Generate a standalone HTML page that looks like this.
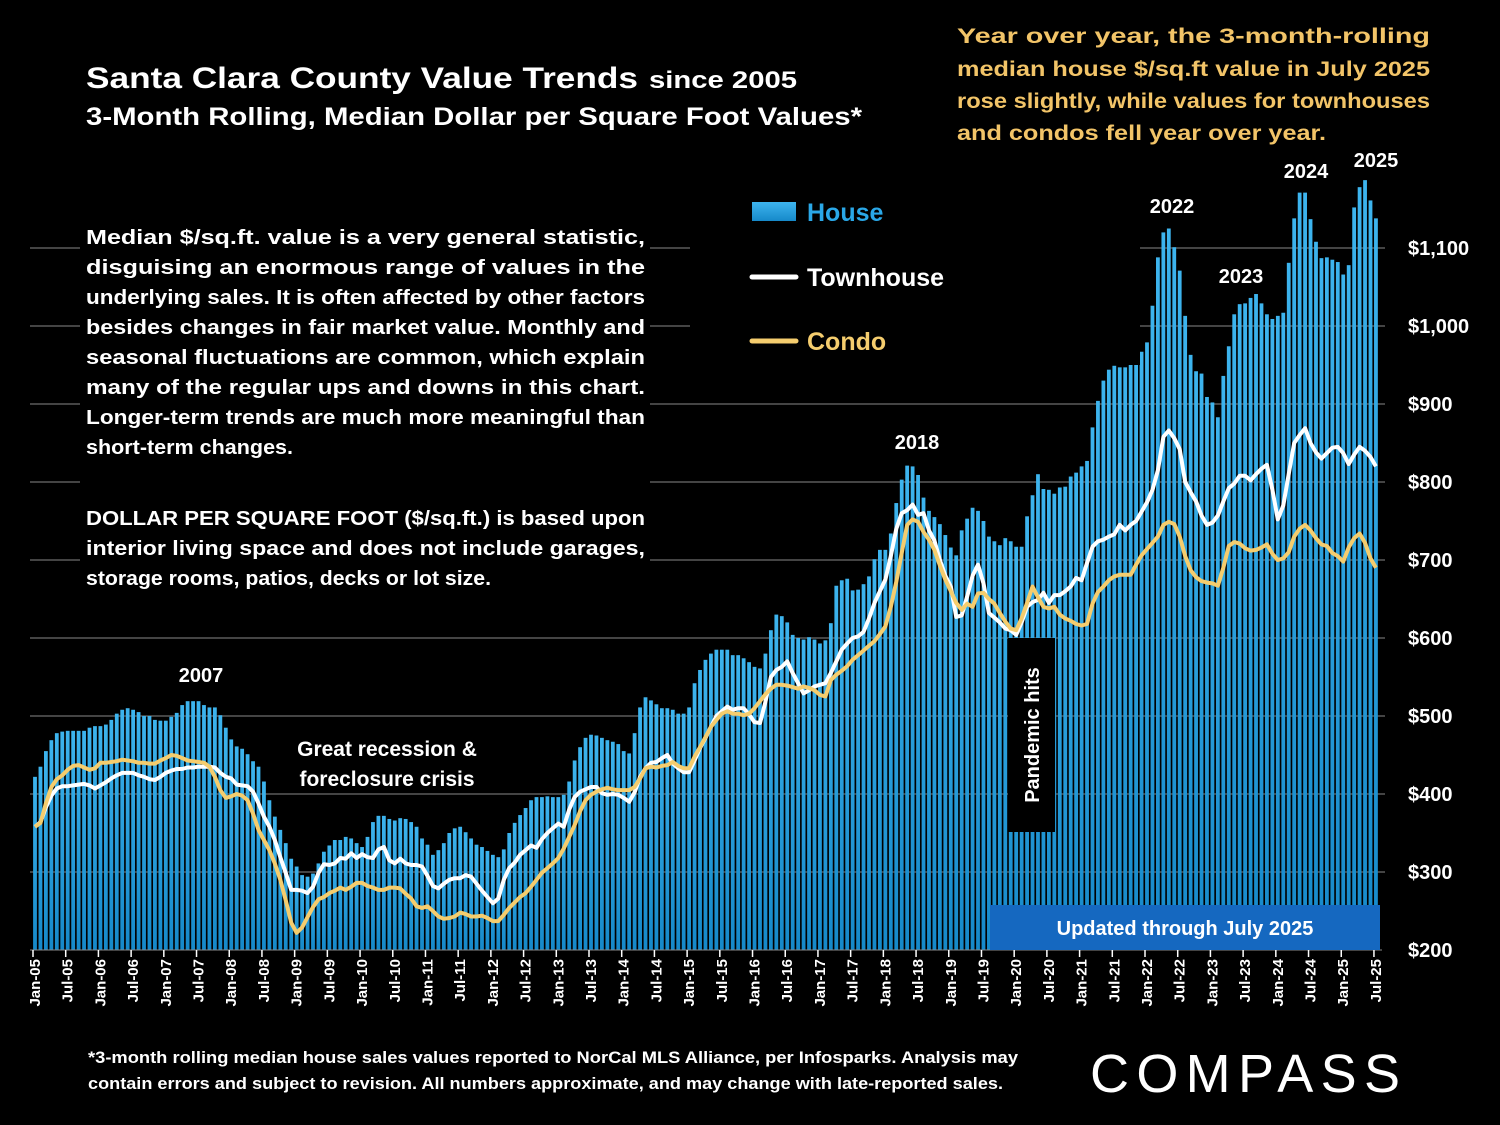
<!DOCTYPE html>
<html><head><meta charset="utf-8"><style>
html,body{margin:0;padding:0;background:#000;}
svg{display:block;font-family:"Liberation Sans",sans-serif;font-weight:bold;}
</style></head><body>
<svg id="chart" width="1500" height="1125" viewBox="0 0 1500 1125">
<defs><linearGradient id="barg" x1="0" y1="0" x2="0" y2="1"><stop offset="0" stop-color="#3db4ee"/><stop offset="1" stop-color="#1689c9"/></linearGradient></defs>
<rect width="1500" height="1125" fill="#000"/>
<g id="grid"></g>
<g id="bars"></g>
<g id="lines"></g>
<rect x="80" y="220" width="570" height="375" fill="#000"/>
<rect x="690" y="185" width="450" height="180" fill="#000"/>
<g id="xaxis"></g>
<g id="yaxis"></g>

<g fill="#fff">
<text x="86" y="88" font-size="30" textLength="552" lengthAdjust="spacingAndGlyphs">Santa Clara County Value Trends</text>
<text x="649" y="88" font-size="24" textLength="148" lengthAdjust="spacingAndGlyphs">since 2005</text>
<text x="86" y="125" font-size="25" textLength="776" lengthAdjust="spacingAndGlyphs">3-Month Rolling, Median Dollar per Square Foot Values*</text>
</g>

<g fill="#f2c468" font-size="21">
<text x="957" y="43" textLength="473" lengthAdjust="spacingAndGlyphs">Year over year, the 3-month-rolling</text>
<text x="957" y="76" textLength="473" lengthAdjust="spacingAndGlyphs">median house $/sq.ft value in July 2025</text>
<text x="957" y="108" textLength="473" lengthAdjust="spacingAndGlyphs">rose slightly, while values for townhouses</text>
<text x="957" y="140" textLength="369" lengthAdjust="spacingAndGlyphs">and condos fell year over year.</text>
</g>

<g fill="#fff" font-size="20">
<text x="86" y="244" textLength="559" lengthAdjust="spacingAndGlyphs">Median $/sq.ft. value is a very general statistic,</text>
<text x="86" y="274" textLength="559" lengthAdjust="spacingAndGlyphs">disguising an enormous range of values in the</text>
<text x="86" y="304" textLength="559" lengthAdjust="spacingAndGlyphs">underlying sales. It is often affected by other factors</text>
<text x="86" y="334" textLength="559" lengthAdjust="spacingAndGlyphs">besides changes in fair market value. Monthly and</text>
<text x="86" y="364" textLength="559" lengthAdjust="spacingAndGlyphs">seasonal fluctuations are common, which explain</text>
<text x="86" y="394" textLength="559" lengthAdjust="spacingAndGlyphs">many of the regular ups and downs in this chart.</text>
<text x="86" y="424" textLength="559" lengthAdjust="spacingAndGlyphs">Longer-term trends are much more meaningful than</text>
<text x="86" y="454" textLength="207" lengthAdjust="spacingAndGlyphs">short-term changes.</text>
<text x="86" y="525" textLength="559" lengthAdjust="spacingAndGlyphs">DOLLAR PER SQUARE FOOT ($/sq.ft.) is based upon</text>
<text x="86" y="555" textLength="559" lengthAdjust="spacingAndGlyphs">interior living space and does not include garages,</text>
<text x="86" y="585" textLength="405" lengthAdjust="spacingAndGlyphs">storage rooms, patios, decks or lot size.</text>
</g>

<g font-size="25">
<rect x="752" y="202" width="44" height="19" fill="url(#barg)"/>
<text x="807" y="221" fill="#2aa8e8">House</text>
<line x1="752" y1="277" x2="796" y2="277" stroke="#fff" stroke-width="5" stroke-linecap="round"/>
<text x="807" y="286" fill="#fff">Townhouse</text>
<line x1="752" y1="341" x2="796" y2="341" stroke="#f5cd6e" stroke-width="5" stroke-linecap="round"/>
<text x="807" y="350" fill="#f5cd6e">Condo</text>
</g>

<g fill="#fff" font-size="20" text-anchor="middle">
<text x="201" y="682">2007</text>
<text x="387" y="756" font-size="21">Great recession &amp;</text>
<text x="387" y="786" font-size="21">foreclosure crisis</text>
<text x="917" y="449">2018</text>
<text x="1172" y="213">2022</text>
<text x="1241" y="283">2023</text>
<text x="1306" y="178">2024</text>
<text x="1376" y="167">2025</text>
</g>

<g>
<rect x="1008" y="638" width="47" height="194" fill="#000"/>
<text transform="translate(1039,735) rotate(-90)" fill="#fff" font-size="20" text-anchor="middle">Pandemic hits</text>
</g>

<g>
<rect x="990" y="905" width="390" height="45" fill="#1568c0"/>
<text x="1185" y="935" fill="#fff" font-size="20" text-anchor="middle">Updated through July 2025</text>
</g>

<g fill="#fff" font-size="17">
<text x="88" y="1063" textLength="930" lengthAdjust="spacingAndGlyphs">*3-month rolling median house sales values reported to NorCal MLS Alliance, per Infosparks. Analysis may</text>
<text x="88" y="1089" textLength="915" lengthAdjust="spacingAndGlyphs">contain errors and subject to revision. All numbers approximate, and may change with late-reported sales.</text>
</g>
<text x="1090" y="1092" fill="#fff" font-size="54" font-weight="normal" textLength="310" lengthAdjust="spacing" style="font-weight:normal">COMPASS</text>
</svg>
<script>
const houseValues = [
422,435,455,469,478,480,481,481,481,481,485,487,
487,489,495,503,508,510,508,505,500,500,495,494,
494,499,504,514,519,519,519,514,511,511,501,485,
470,461,458,451,442,435,416,392,371,354,337,317,
307,296,294,298,311,326,334,341,341,345,343,337,
332,345,364,372,372,368,366,
369,368,364,358,343,335,322,328,337,350,356,358,351,
343,335,332,327,322,319,329,350,363,373,382,392,
396,396,397,396,396,399,416,443,460,472,476,475,
472,469,467,464,455,452,
478,511,524,520,515,510,510,508,503,503,511,
542,559,572,580,585,585,585,578,578,574,569,563,561,580,610,630,
628,620,604,600,598,601,598,593,597,619,667,674,
676,661,662,669,679,701,713,713,734,773,803,821,
820,809,780,763,755,746,732,716,706,738,753,767,
763,750,730,724,719,728,724,717,717,756,783,810,
791,790,785,793,794,807,812,
820,827,870,904,930,944,949,947,947,952,960,967,
979,1026,1088,1120,1125,1101,1071,1013,963,942,939,909,
902,883,936,974,1015,1028,1029,1036,1041,1029,1015,1009,
1013,1017,1081,1138,1171,1171,1137,1108,1087,1088,1085,1082,
1066,1078,1152,1178,1187,1161,1138];
const townhouseValues = [
358,364,383,398,407,410,410,411,412,413,411,407,
411,415,420,424,427,427,427,424,422,419,418,422,
427,430,432,432,434,434,435,435,435,434,427,422,
420,412,411,410,403,388,371,358,341,319,299,277,
277,276,273,281,299,310,309,311,318,317,324,318,
323,319,318,329,332,315,311,
317,311,309,309,307,295,282,279,285,290,292,292,296,
294,285,276,268,260,266,290,305,312,322,328,334,
331,342,350,356,362,358,380,396,403,406,409,409,
401,399,400,399,395,390,
402,422,433,440,441,446,450,439,433,428,428,
443,459,472,486,500,506,512,508,510,510,502,492,491,518,550,559,
563,570,555,542,529,533,538,540,542,555,570,585,
593,600,602,608,625,645,660,675,705,740,760,764,
771,758,760,738,725,700,680,666,627,629,653,680,
694,670,632,626,620,612,610,604,620,640,646,649,
658,645,655,655,660,666,677,
674,696,717,724,726,730,733,745,738,745,750,762,
774,790,815,858,866,856,842,800,787,775,757,745,
748,757,775,792,798,808,808,802,810,817,822,790,
752,770,810,850,860,869,850,838,830,837,844,845,
837,823,835,845,840,832,820];
const condoValues = [
358,363,388,409,419,424,431,436,437,434,431,433,
440,440,441,442,444,443,442,440,440,439,439,443,
446,450,449,446,443,442,441,440,435,422,405,395,
397,400,398,392,375,354,341,328,311,290,264,235,
222,229,242,255,265,268,273,276,280,277,281,286,
286,282,280,277,277,280,280,
279,272,266,256,254,256,250,243,240,241,243,248,246,
243,243,244,241,237,237,245,254,261,268,273,281,
290,299,305,311,318,330,345,360,378,392,399,403,
406,408,406,405,405,405,
409,420,433,435,434,436,437,441,436,433,433,
448,460,473,486,495,503,506,503,503,501,503,510,519,528,535,540,
540,539,537,535,538,536,533,527,525,546,553,558,
564,572,578,584,590,596,605,615,640,672,709,745,
752,749,736,726,713,693,675,660,645,636,644,640,
657,658,650,644,632,621,612,610,625,645,666,652,
640,638,640,630,625,622,618,
616,618,644,659,666,674,679,681,681,681,694,706,
714,722,730,745,749,746,730,705,687,678,673,671,
670,667,690,718,723,721,715,712,713,716,720,708,
700,702,710,730,740,745,738,728,720,718,709,705,
698,716,728,734,722,702,690];
const yTickValues = [200,300,400,500,600,700,800,900,1000,1100];
const yTickLabels = ["$200","$300","$400","$500","$600","$700","$800","$900","$1,000","$1,100"];
const xTickLabels = ["Jan-05","Jul-05","Jan-06","Jul-06","Jan-07","Jul-07","Jan-08","Jul-08","Jan-09","Jul-09","Jan-10","Jul-10","Jan-11","Jul-11","Jan-12","Jul-12","Jan-13","Jul-13","Jan-14","Jul-14","Jan-15","Jul-15","Jan-16","Jul-16","Jan-17","Jul-17","Jan-18","Jul-18","Jan-19","Jul-19","Jan-20","Jul-20","Jan-21","Jul-21","Jan-22","Jul-22","Jan-23","Jul-23","Jan-24","Jul-24","Jan-25","Jul-25"];

const NS = "http://www.w3.org/2000/svg";
function xScale(i){ return 35 + i * 5.451; }
function yScale(v){ return 950 - (v - 200) * 0.78; }
function mk(tag, attrs, parent){ const e = document.createElementNS(NS, tag); for (const k in attrs) e.setAttribute(k, attrs[k]); parent.appendChild(e); return e; }

const grid = document.getElementById('grid');
const yaxis = document.getElementById('yaxis');
yTickValues.forEach((v, k) => {
  if (k > 0) {
    const gl = mk('line', {x1: 30, x2: 1385, y1: yScale(v), y2: yScale(v), stroke: '#5a5a5a', 'stroke-width': 1.5}, grid);
    
    
  }
  const t = mk('text', {x: 1408, y: yScale(v) + 7, fill: '#fff', 'font-size': 20}, yaxis);
  t.textContent = yTickLabels[k];
  
  
});

const bars = document.getElementById('bars');
houseValues.forEach((v, i) => {
  const b = mk('rect', {x: xScale(i) - 1.9, y: yScale(v), width: 3.8, height: 950 - yScale(v), fill: 'url(#barg)'}, bars);
  
  
});

const lines = document.getElementById('lines');
function linePath(vals){ return vals.map((v, i) => (i ? 'L' : 'M') + xScale(i).toFixed(1) + ',' + yScale(v).toFixed(1)).join(''); }
const th = mk('path', {d: linePath(townhouseValues), fill: 'none', stroke: '#fff', 'stroke-width': 4, 'stroke-linejoin': 'round'}, lines);


const cd = mk('path', {d: linePath(condoValues), fill: 'none', stroke: '#f5cd6e', 'stroke-width': 4, 'stroke-linejoin': 'round'}, lines);



const xaxis = document.getElementById('xaxis');
const ax = mk('line', {x1: 30, x2: 1382, y1: 950, y2: 950, stroke: '#888', 'stroke-width': 1}, xaxis);


xTickLabels.forEach((lab, k) => {
  const i = k * 6;
  const x = xScale(i);
  const tk = mk('line', {x1: x - 2, x2: x - 2, y1: 950, y2: 957, stroke: '#fff', 'stroke-width': 1.5}, xaxis);
  
  
  const t = mk('text', {transform: 'translate(' + (x + 5) + ',959) rotate(-90)', fill: '#fff', 'font-size': 15, 'text-anchor': 'end'}, xaxis);
  t.textContent = lab;
  
  
});
</script>
</body></html>
